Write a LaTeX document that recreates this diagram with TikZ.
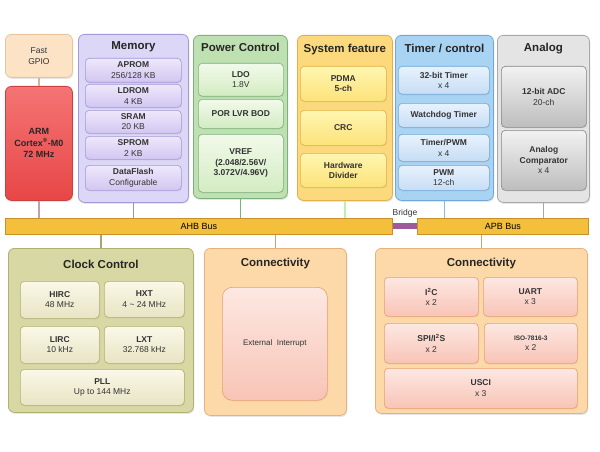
\documentclass[tikz,border=0pt]{standalone}
\usepackage{fontspec}
\setmainfont{Liberation Sans}
\usepackage{tikz}
\usetikzlibrary{shadows}

\definecolor{gpioC}{HTML}{FDE3C5}
\definecolor{gpioD}{HTML}{E8C49A}
\definecolor{armT}{HTML}{F57474}
\definecolor{armB}{HTML}{E84646}
\definecolor{armD}{HTML}{C84040}
\definecolor{memC}{HTML}{DCD6F7}
\definecolor{memD}{HTML}{A29AD6}
\definecolor{memT}{HTML}{EEE8FB}
\definecolor{memB}{HTML}{D2C6F1}
\definecolor{pwrC}{HTML}{BFE0B0}
\definecolor{pwrD}{HTML}{7DB07C}
\definecolor{pwrT}{HTML}{F2FAEA}
\definecolor{pwrB}{HTML}{D2ECC2}
\definecolor{sysC}{HTML}{FCD97C}
\definecolor{sysD}{HTML}{E2B04A}
\definecolor{sysT}{HTML}{FFF6B0}
\definecolor{sysB}{HTML}{FCE27A}
\definecolor{tmrC}{HTML}{A9D3F2}
\definecolor{tmrD}{HTML}{6FA8D8}
\definecolor{tmrT}{HTML}{E8F2FD}
\definecolor{tmrB}{HTML}{C6DDF5}
\definecolor{anaC}{HTML}{E4E4E4}
\definecolor{anaD}{HTML}{A8A8A8}
\definecolor{anaT}{HTML}{F2F2F2}
\definecolor{anaB}{HTML}{BDBDBD}
\definecolor{clkC}{HTML}{D8D8A4}
\definecolor{clkD}{HTML}{B0B070}
\definecolor{clkT}{HTML}{FAF8E8}
\definecolor{clkB}{HTML}{E8E4C4}
\definecolor{conC}{HTML}{FDD8A8}
\definecolor{conD}{HTML}{E6B27A}
\definecolor{conT}{HTML}{FDE8E2}
\definecolor{conB}{HTML}{F8C4B6}
\definecolor{busC}{HTML}{F4BF3A}
\definecolor{busD}{HTML}{C8902A}
\definecolor{brgC}{HTML}{9C5A9C}

\tikzset{
  blk/.style={draw, line width=0.8pt, rounded corners=6pt, anchor=north west, inner sep=0pt, align=center},
  grp/.style={blk, drop shadow={opacity=0.2, shadow xshift=1pt, shadow yshift=-1.5pt}},
  sub/.style={blk, rounded corners=4pt, line width=0.6pt, text=black!80, font=\fontsize{8.5}{10.5}\selectfont,
    drop shadow={opacity=0.12, shadow xshift=0.8pt, shadow yshift=-1pt}},
  title/.style={font=\fontsize{11.5}{13}\selectfont\bfseries, text=black!85},
  bus/.style={draw=busD, fill=busC, line width=0.6pt, anchor=north west, inner sep=0pt, font=\fontsize{9}{11}\selectfont},
  link/.style={line width=1.5pt}
}

\begin{document}
\begin{tikzpicture}[x=1pt, y=-1pt]
\useasboundingbox (0,0) rectangle (600,452);

% CPU side
\node[grp, draw=gpioD, fill=gpioC, minimum width=67pt, minimum height=43pt, font=\fontsize{8.5}{11}\selectfont, text=black!80] (gpio) at (5,34) {Fast\\GPIO};
\node[grp, draw=armD, top color=armT, bottom color=armB, minimum width=67pt, minimum height=114pt, font=\fontsize{9}{11.5}\selectfont\bfseries, text=black!85] (arm) at (5,86) {ARM\\Cortex\textsuperscript{®}-M0\\72 MHz};

% memory
\node[grp, draw=memD, fill=memC, minimum width=110pt, minimum height=168pt] (mem) at (78,34) {};
\node[title] (memt) at ([yshift=-13pt]mem.north) {Memory};
\node[sub, draw=memD, top color=memT, bottom color=memB, minimum width=96pt, minimum height=24pt] (aprom) at (85,58) {\textbf{APROM}\\256/128 KB};
\node[sub, draw=memD, top color=memT, bottom color=memB, minimum width=96pt, minimum height=23pt] (ldrom) at (85,84) {\textbf{LDROM}\\4 KB};
\node[sub, draw=memD, top color=memT, bottom color=memB, minimum width=96pt, minimum height=23pt] (sram) at (85,110) {\textbf{SRAM}\\20 KB};
\node[sub, draw=memD, top color=memT, bottom color=memB, minimum width=96pt, minimum height=23pt] (sprom) at (85,136) {\textbf{SPROM}\\2 KB};
\node[sub, draw=memD, top color=memT, bottom color=memB, minimum width=96pt, minimum height=25pt] (dflash) at (85,165) {\textbf{DataFlash}\\Configurable};

% power control
\node[grp, draw=pwrD, fill=pwrC, minimum width=94pt, minimum height=163pt] (pwr) at (193,35) {};
\node[title] (pwrt) at ([yshift=-12pt]pwr.north) {Power Control};
\node[sub, draw=pwrD, top color=pwrT, bottom color=pwrB, minimum width=85pt, minimum height=33pt] (ldo) at (198,63) {\textbf{LDO}\\1.8V};
\node[sub, draw=pwrD, top color=pwrT, bottom color=pwrB, minimum width=85pt, minimum height=29pt, font=\fontsize{8.5}{10.5}\selectfont\bfseries] (por) at (198,99) {POR LVR BOD};
\node[sub, draw=pwrD, top color=pwrT, bottom color=pwrB, minimum width=85pt, minimum height=58pt, font=\fontsize{8.5}{10.5}\selectfont\bfseries] (vref) at (198,134) {VREF\\(2.048/2.56V/\\3.072V/4.96V)};

% system feature
\node[grp, draw=sysD, fill=sysC, minimum width=95pt, minimum height=165pt] (sys) at (297,35) {};
\node[title] (syst) at ([yshift=-15pt]sys.north) {System feature};
\node[sub, draw=sysD, top color=sysT, bottom color=sysB, minimum width=86pt, minimum height=35pt, font=\fontsize{8.5}{10.5}\selectfont\bfseries] (pdma) at (300,66) {PDMA\\5-ch};
\node[sub, draw=sysD, top color=sysT, bottom color=sysB, minimum width=86pt, minimum height=35pt, font=\fontsize{8.5}{10.5}\selectfont\bfseries] (crc) at (300,110) {CRC};
\node[sub, draw=sysD, top color=sysT, bottom color=sysB, minimum width=86pt, minimum height=34pt, font=\fontsize{8.5}{10.5}\selectfont\bfseries] (hdiv) at (300,153) {Hardware\\Divider};

% timer / control
\node[grp, draw=tmrD, fill=tmrC, minimum width=98pt, minimum height=165pt] (tmr) at (395,35) {};
\node[title] (tmrt) at ([yshift=-13pt]tmr.north) {Timer / control};
\node[sub, draw=tmrD, top color=tmrT, bottom color=tmrB, minimum width=91pt, minimum height=28pt] (t32) at (398,66) {\textbf{32-bit Timer}\\x 4};
\node[sub, draw=tmrD, top color=tmrT, bottom color=tmrB, minimum width=91pt, minimum height=24pt, font=\fontsize{8.5}{10.5}\selectfont\bfseries] (wdt) at (398,103) {Watchdog Timer};
\node[sub, draw=tmrD, top color=tmrT, bottom color=tmrB, minimum width=91pt, minimum height=27pt] (tpwm) at (398,134) {\textbf{Timer/PWM}\\x 4};
\node[sub, draw=tmrD, top color=tmrT, bottom color=tmrB, minimum width=91pt, minimum height=25pt] (pwm) at (398,165) {\textbf{PWM}\\12-ch};

% analog
\node[grp, draw=anaD, fill=anaC, minimum width=92pt, minimum height=167pt] (ana) at (497,35) {};
\node[title] (anat) at ([yshift=-14pt]ana.north) {Analog};
\node[sub, draw=anaD!80!black, top color=anaT, bottom color=anaB, minimum width=85pt, minimum height=61pt] (adc) at (501,66) {\textbf{12-bit ADC}\\20-ch};
\node[sub, draw=anaD!80!black, top color=anaT, bottom color=anaB, minimum width=85pt, minimum height=60pt] (acmp) at (501,130) {\textbf{Analog}\\\textbf{Comparator}\\x 4};

% buses
\node[bus, minimum width=387pt, minimum height=16pt] (ahb) at (5,218) {AHB Bus};
\node[bus, minimum width=171pt, minimum height=16pt] (apb) at (417,218) {APB Bus};
\draw[brgC, line width=6pt] (ahb.east) -- (apb.west);
\node[font=\fontsize{8.5}{10}\selectfont, text=black!80] (brg) at (405,213) {Bridge};

% clock control
\node[grp, draw=clkD, fill=clkC, minimum width=185pt, minimum height=164pt] (clk) at (8,248) {};
\node[title] (clkt) at ([yshift=-16pt]clk.north) {Clock Control};
\node[sub, draw=clkD, top color=clkT, bottom color=clkB, minimum width=79pt, minimum height=37pt] (hirc) at (20,281) {\textbf{HIRC}\\48 MHz};
\node[sub, draw=clkD, top color=clkT, bottom color=clkB, minimum width=80pt, minimum height=36pt] (hxt) at (104,281) {\textbf{HXT}\\4 \textasciitilde{} 24 MHz};
\node[sub, draw=clkD, top color=clkT, bottom color=clkB, minimum width=79pt, minimum height=37pt] (lirc) at (20,326) {\textbf{LIRC}\\10 kHz};
\node[sub, draw=clkD, top color=clkT, bottom color=clkB, minimum width=80pt, minimum height=37pt] (lxt) at (104,326) {\textbf{LXT}\\32.768 kHz};
\node[sub, draw=clkD, top color=clkT, bottom color=clkB, minimum width=164pt, minimum height=36pt] (pll) at (20,369) {\textbf{PLL}\\Up to 144 MHz};

% connectivity (AHB)
\node[grp, draw=conD, fill=conC, minimum width=142pt, minimum height=167pt] (conA) at (204,248) {};
\node[title] (conAt) at ([yshift=-16pt]conA.north) {Connectivity};
\node[sub, draw=conD!90!red, top color=conT, bottom color=conB, rounded corners=10pt, minimum width=105pt, minimum height=113pt, font=\fontsize{8}{10}\selectfont] (eint) at (222,287) {External\ \ Interrupt};

% connectivity (APB)
\node[grp, draw=conD, fill=conC, minimum width=212pt, minimum height=165pt] (conB) at (375,248) {};
\node[title] (conBt) at ([yshift=-16pt]conB.north) {Connectivity};
\node[sub, draw=conD!90!red, top color=conT, bottom color=conB, minimum width=94pt, minimum height=39pt] (i2c) at (384,277) {\textbf{I\textsuperscript{2}C}\\x 2};
\node[sub, draw=conD!90!red, top color=conT, bottom color=conB, minimum width=94pt, minimum height=39pt] (uart) at (483,277) {\textbf{UART}\\x 3};
\node[sub, draw=conD!90!red, top color=conT, bottom color=conB, minimum width=94pt, minimum height=40pt] (spi) at (384,323) {\textbf{SPI/I\textsuperscript{2}S}\\x 2};
\node[sub, draw=conD!90!red, top color=conT, bottom color=conB, minimum width=93pt, minimum height=40pt] (iso) at (484,323) {{\fontsize{6.5}{9}\selectfont\textbf{ISO-7816-3}}\\x 2};
\node[sub, draw=conD!90!red, top color=conT, bottom color=conB, minimum width=193pt, minimum height=40pt] (usci) at (384,368) {\textbf{USCI}\\x 3};

% links to the buses
\draw[link, gpioD!80!gray] (gpio.south) -- (arm.north);
\draw[link, armD!45!gray!60] (arm.south) -- (arm.south |- ahb.north);
\draw[link, memD!70!gray] (mem.south) -- (mem.south |- ahb.north);
\draw[link, pwrD] (pwr.south) -- (pwr.south |- ahb.north);
\draw[link, sysD!40!green!40!white] (sys.south) -- (sys.south |- ahb.north);
\draw[link, tmrD!80!white] (tmr.south) -- (tmr.south |- apb.north);
\draw[link, anaD] (ana.south) -- (ana.south |- apb.north);
\draw[link, clkD!80!gray] (ahb.south -| clk.north) -- (clk.north);
\draw[link, conD!70!gray] (ahb.south -| conA.north) -- (conA.north);
\draw[link, conD!70!gray] (apb.south -| conB.north) -- (conB.north);
\end{tikzpicture}
\end{document}
